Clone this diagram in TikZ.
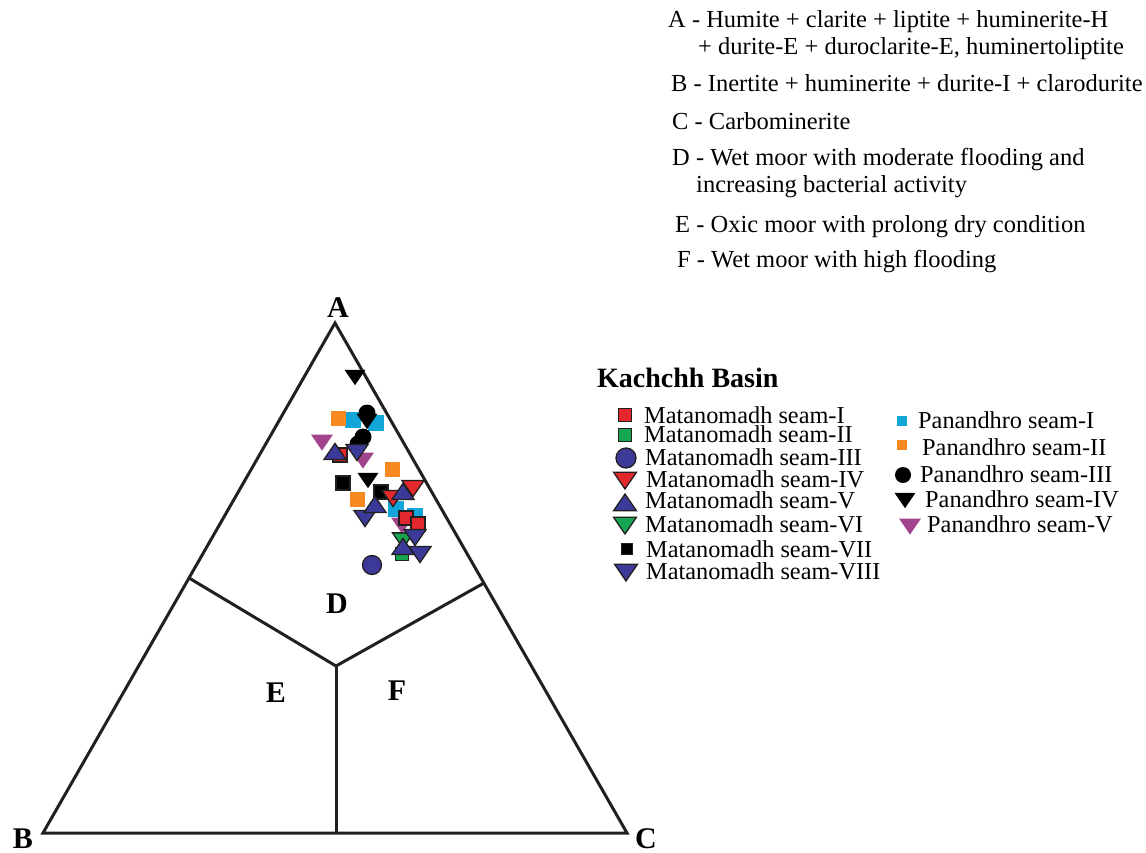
\documentclass[tikz,border=0pt]{standalone}
\usepackage{fontspec}
\setmainfont{Liberation Serif}
\usetikzlibrary{calc}
\definecolor{cred}{HTML}{E2282C}
\definecolor{cgreen}{HTML}{17A552}
\definecolor{cblue}{HTML}{3C3A98}
\definecolor{ccyan}{HTML}{12A6D8}
\definecolor{corange}{HTML}{F6891F}
\definecolor{cpurple}{HTML}{A2438D}
\definecolor{outl}{HTML}{231F20}
\tikzset{
  tri/.style={line width=3pt, draw=outl, line join=miter},
  mM/.style={fill=#1, draw=outl, line width=1.3pt, line join=miter},
  mP/.style={fill=#1, draw=none},
  pics/sq/.style={code={\path[pic actions] (-#1,-#1) rectangle (#1,#1);}},
  pics/dt/.style={code={\path[pic actions] (-#1,-0.68*#1) -- (#1,-0.68*#1) -- (0,0.78*#1) -- cycle;}},
  pics/ut/.style={code={\path[pic actions] (-#1,0.68*#1) -- (#1,0.68*#1) -- (0,-0.78*#1) -- cycle;}},
  pics/ci/.style={code={\path[pic actions] (0,0) circle[radius=#1];}},
  toptxt/.style={anchor=base west, inner sep=0pt, font=\fontsize{24.5}{28}\selectfont},
  lbl/.style={anchor=base, inner sep=0pt, font=\fontsize{30}{34}\selectfont\bfseries},
  legtxt/.style={anchor=base west, inner sep=0pt, font=\fontsize{24.3}{28}\selectfont},
}
\begin{document}
\begin{tikzpicture}[x=1pt,y=-1pt]
\useasboundingbox (0,0) rectangle (1146,853);
\fill[white] (0,0) rectangle (1146,853);

% ---- explanatory text
\node[toptxt] (tA1) at (668,28) {A - Humite + clarite + liptite + huminerite-H};
\node[toptxt] (tA2) at (698,55) {+ durite-E + duroclarite-E, huminertoliptite};
\node[toptxt] (tB) at (671,92) {B - Inertite + huminerite + durite-I + clarodurite};
\node[toptxt] (tC) at (672,130) {C - Carbominerite};
\node[toptxt] (tD1) at (672,166) {D - Wet moor with moderate flooding and};
\node[toptxt] (tD2) at (696,193) {increasing bacterial activity};
\node[toptxt] (tE) at (675,233) {E - Oxic moor with prolong dry condition};
\node[toptxt] (tF) at (677,268) {F - Wet moor with high flooding};

% ---- ternary diagram
\coordinate (A) at (335,323);
\coordinate (B) at (43,833);
\coordinate (C) at (627,833);
\coordinate (pab) at ($(A)!0.5!(B)$);
\coordinate (pac) at ($(A)!0.51!(C)$);
\coordinate (O) at (336,666);
\coordinate (ob) at (336,833);
\draw[tri] (A) -- (B) -- (C) -- cycle;
\draw[tri] (pab) -- (O) -- (pac);
\draw[tri] (O) -- (ob);

\node[lbl] (lA) at (338,317) {A};
\node[lbl] (lB) at (23,848) {B};
\node[lbl] (lC) at (646,848) {C};
\node[lbl] (lD) at (337,613) {D};
\node[lbl] (lE) at (276,702) {E};
\node[lbl] (lF) at (397,700) {F};

% ---- data points: Panandhro
\foreach \p in {(353,420),(376,423),(396,509),(415,516)} \pic[mP=ccyan] at \p {sq=8};
\foreach \p in {(338,418),(392,469),(357,499)} \pic[mP=corange] at \p {sq=7.5};
\foreach \p in {(322,442),(363,460),(402,525)} \pic[mP=cpurple] at \p {dt=11};
\foreach \p in {(367,413),(363,437),(358,444)} \pic[mP=black] at \p {ci=8.5};
\foreach \p in {(355,377),(367,421),(368,480)} \pic[mP=black] at \p {dt=10.5};

% ---- data points: Matanomadh
\foreach \p in {(340,455),(406,518),(418,524)} \pic[mM=cred] at \p {sq=7};
\foreach \p in {(343,483),(381,492)} \pic[mM=black] at \p {sq=7};
\pic[mM=cgreen] at (403,540) {dt=10.5};
\pic[mM=cgreen] at (402,554) {sq=6.5};
\foreach \p in {(393,498),(413,488)} \pic[mM=cred] at \p {dt=11};
\foreach \p in {(357,452),(365,518),(415,537),(420,554)} \pic[mM=cblue] at \p {dt=11};
\foreach \p in {(335,452),(375,505),(403,492),(403,547)} \pic[mM=cblue] at \p {ut=11};
\pic[mM=cblue] at (372,565) {ci=9.5};

% ---- legend
\node[anchor=base west, inner sep=0pt, font=\fontsize{28}{32}\selectfont\bfseries] (ttl) at (597,387) {Kachchh Basin};

\pic[mM=cred] at (625,415) {sq=6.5};
\node[legtxt] (m1) at (644,423) {Matanomadh seam-I};
\pic[mM=cgreen] at (625,435) {sq=6.5};
\node[legtxt] (m2) at (644,442) {Matanomadh seam-II};
\pic[mM=cblue] at (626,458) {ci=10};
\node[legtxt] (m3) at (645,465) {Matanomadh seam-III};
\pic[mM=cred] at (625,480) {dt=11.5};
\node[legtxt] (m4) at (646,487) {Matanomadh seam-IV};
\pic[mM=cblue] at (625,503) {ut=11.5};
\node[legtxt] (m5) at (645,508) {Matanomadh seam-V};
\pic[mM=cgreen] at (625,525) {dt=11.5};
\node[legtxt] (m6) at (645,532) {Matanomadh seam-VI};
\pic[mM=black] at (627,549) {sq=5.5};
\node[legtxt] (m7) at (646,557) {Matanomadh seam-VII};
\pic[mM=cblue] at (626,572) {dt=11.5};
\node[legtxt] (m8) at (646,579) {Matanomadh seam-VIII};

\pic[mP=ccyan] at (902,421) {sq=5};
\node[legtxt] (p1) at (918,428) {Panandhro seam-I};
\pic[mP=corange] at (902,445) {sq=5};
\node[legtxt] (p2) at (922,455) {Panandhro seam-II};
\pic[mP=black] at (903,475) {ci=8};
\node[legtxt] (p3) at (920,482) {Panandhro seam-III};
\pic[mP=black] at (905,500) {dt=10.5};
\node[legtxt] (p4) at (925,507) {Panandhro seam-IV};
\pic[mP=cpurple] at (910,526) {dt=11};
\node[legtxt] (p5) at (927,532) {Panandhro seam-V};
\end{tikzpicture}
\end{document}
